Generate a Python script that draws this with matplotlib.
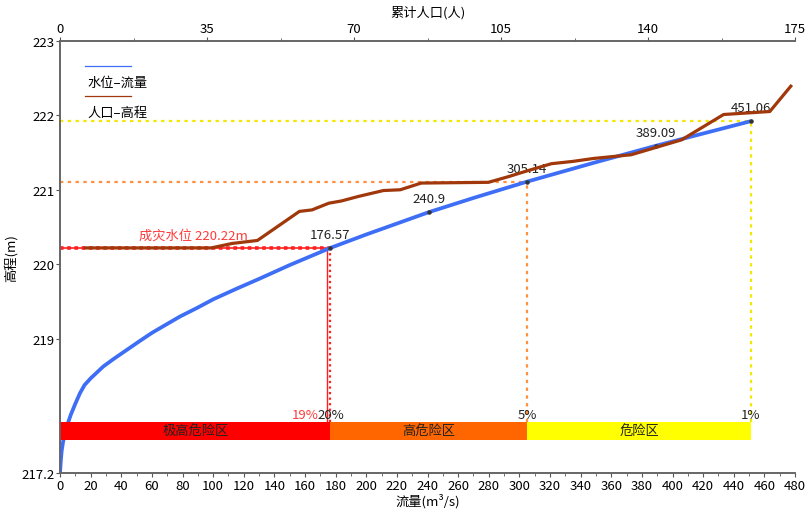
import matplotlib
matplotlib.use('Agg')
import matplotlib.pyplot as plt
import numpy as np

plt.rcParams['font.family'] = ['Noto Sans CJK SC', 'DejaVu Sans']
plt.rcParams['axes.unicode_minus'] = False

# 水位-流量 curve (bottom axis, m3/s)
flow = [0, 0.5, 1.1, 2, 3.3, 5, 7, 10, 13, 16, 20, 28.3, 35, 43.5, 52, 60, 70,
        78.4, 90, 100, 115, 130.6, 150, 176.57, 200, 240.9, 270, 305.14, 350,
        389.09, 420, 451.06]
level = [217.2, 217.36, 217.5, 217.62, 217.74, 217.86, 217.98, 218.13, 218.27,
         218.38, 218.47, 218.63, 218.73, 218.85, 218.97, 219.08, 219.2, 219.3,
         219.42, 219.53, 219.67, 219.81, 219.99, 220.22, 220.4, 220.7, 220.89,
         221.11, 221.37, 221.59, 221.755, 221.92]

# 人口-高程 (top axis, people)
people = [6, 36, 41, 47, 57, 60, 64, 67, 71, 77, 81, 86, 102, 107, 111, 117,
          122, 127, 136, 142, 148, 158, 169, 174]
elev = [220.22, 220.22, 220.28, 220.32, 220.71, 220.73, 220.82, 220.85, 220.91,
        220.99, 221.0, 221.09, 221.1, 221.18, 221.25, 221.35, 221.38, 221.42,
        221.47, 221.57, 221.67, 222.01, 222.05, 222.39]

# labelled points on the curve
pt_flow = [176.57, 240.9, 305.14, 389.09, 451.06]
pt_level = [220.22, 220.7, 221.11, 221.59, 221.92]

# risk zones
zone_names = ['极高危险区', '高危险区', '危险区']
zone_left = [0, 176.57, 305.14]
zone_right = [176.57, 305.14, 451.06]
zone_colors = ['#FF0000', '#FF6600', '#FFFF00']

disaster_level = 220.22
q19 = 174.5
line_orange = (305.14, 221.11)
line_yellow = (451.06, 221.92)

bar_bottom, bar_top = 217.64, 217.88

fig = plt.figure(figsize=(8.09, 5.10), dpi=100)
ax = fig.add_axes([0.0742, 0.0706, 0.9085, 0.8476])

ax.plot(flow, level, color='#3D6EF5', lw=2.7, zorder=3, solid_capstyle='round',
        solid_joinstyle='round')

# disaster level lines
ax.plot([0, 176.57], [disaster_level] * 2, color='#FF2020', lw=1.2, zorder=2)
ax.plot([0, 176.57], [disaster_level] * 2, color='#FF2020', lw=2.6, ls=(0, (1, 1)), zorder=2)
ax.plot([q19, q19], [bar_top, disaster_level], color='#FF2020', lw=1.0, zorder=2)
ax.plot([176.57, 176.57], [bar_top, disaster_level], color='#FF2020', lw=1.6, ls=(0, (1, 1.5)), zorder=2)
ax.text(87, disaster_level + 0.08, '成灾水位 220.22m', color='#FF3B3B', fontsize=9.5,
        ha='center', va='bottom')

# 5% and 1% lines
ax.plot([0, line_orange[0]], [line_orange[1]] * 2, color='#FF9040', lw=1.6, ls=(0, (1.5, 2)), zorder=2)
ax.plot([line_orange[0]] * 2, [bar_top, line_orange[1]], color='#FF9040', lw=1.6, ls=(0, (1.5, 2)), zorder=2)
ax.plot([0, line_yellow[0]], [line_yellow[1]] * 2, color='#F5E800', lw=1.6, ls=(0, (1.5, 2)), zorder=2)
ax.plot([line_yellow[0]] * 2, [bar_top, line_yellow[1]], color='#F5E800', lw=1.6, ls=(0, (1.5, 2)), zorder=2)

# zone bars
for name, l, r, c in zip(zone_names, zone_left, zone_right, zone_colors):
    ax.barh((bar_bottom + bar_top) / 2, r - l, left=l, height=bar_top - bar_bottom,
            color=c, zorder=4)
    ax.text((l + r) / 2, (bar_bottom + bar_top) / 2, name, ha='center', va='center',
            fontsize=9.5, color='#222222', zorder=5)

ax.annotate('19%', (q19, bar_top + 0.02), xytext=(-6, 0), textcoords='offset points',
            ha='right', va='bottom', color='#FF3B3B', fontsize=9.5)
ax.text(176.57, bar_top + 0.02, '20%', ha='center', va='bottom', color='#222222', fontsize=9.5)
ax.text(305.14, bar_top + 0.02, '5%', ha='center', va='bottom', color='#222222', fontsize=9.5)
ax.text(451.06, bar_top + 0.02, '1%', ha='center', va='bottom', color='#222222', fontsize=9.5)

# labelled points
ax.scatter(pt_flow, pt_level, s=5, color='#333333', zorder=6)
for q, z in zip(pt_flow, pt_level):
    ax.annotate(f'{q:g}', (q, z), xytext=(0, 5), textcoords='offset points',
                ha='center', va='bottom', fontsize=9.5, color='#222222', zorder=6)

ax.set_xlim(0, 480)
ax.set_ylim(217.2, 223)
ax.set_xticks(np.arange(0, 481, 20))
ax.set_xticks(np.arange(0, 481, 10), minor=True)
ax.set_yticks([217.2, 219, 220, 221, 222, 223])
ax.set_yticklabels(['217.2', '219', '220', '221', '222', '223'])
ax.set_xlabel('流量(m³/s)', fontsize=9.5, labelpad=1)
ax.set_ylabel('高程(m)', fontsize=9.5)
ax.yaxis.set_label_coords(-0.057, 0.5)
ax.tick_params(labelsize=9.5, color='#555555', length=3, pad=1)
ax.tick_params(which='minor', length=2, color='#555555')
ax.spines['right'].set_visible(False)
for s in ['left', 'bottom', 'top']:
    ax.spines[s].set_color('#666666')
    ax.spines[s].set_linewidth(1.2)

# population axis on top
ax2 = ax.twiny()
ax2.plot(people, elev, color='#A0380C', lw=2.3, zorder=3)
ax2.set_xlim(0, 175)
ax2.set_xticks(np.arange(0, 176, 35))
ax2.set_xticks(np.arange(17.5, 176, 35), minor=True)
ax2.set_xlabel('累计人口(人)', fontsize=9.5, labelpad=5)
ax2.tick_params(labelsize=9.5, color='#555555', length=3, pad=1)
ax2.tick_params(which='minor', length=2, color='#555555')
ax2.spines['right'].set_visible(False)
for s in ['left', 'bottom', 'top']:
    ax2.spines[s].set_color('#666666')
    ax2.spines[s].set_linewidth(1.2)

# legend (line above text)
ax2.plot([0.034, 0.097], [0.9415, 0.9415], transform=ax2.transAxes, color='#3D6EF5', lw=0.9)
ax2.text(0.037, 0.904, '水位–流量', transform=ax2.transAxes, fontsize=9.5, va='center')
ax2.plot([0.034, 0.097], [0.872, 0.872], transform=ax2.transAxes, color='#A0380C', lw=0.9)
ax2.text(0.037, 0.835, '人口–高程', transform=ax2.transAxes, fontsize=9.5, va='center')

fig.savefig('out.png', dpi=100)
